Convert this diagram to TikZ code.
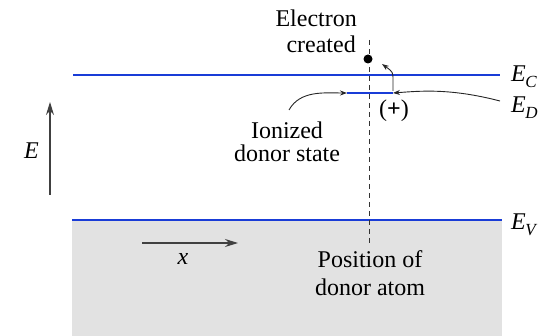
\documentclass[tikz,border=0pt]{standalone}
\usepackage{fontspec}
\setmainfont{Liberation Serif}
\usetikzlibrary{arrows.meta}
\definecolor{bandblue}{RGB}{25,60,215}
\definecolor{valgray}{RGB}{226,226,226}
\newcommand\Eband[1]{\textit{E}\kern-0.5pt\raisebox{-6pt}{\fontsize{17}{17}\selectfont\textit{#1}}}
\tikzset{
  band/.style={draw=bandblue,line width=2.5pt},
  lbl/.style={font=\fontsize{24}{24}\selectfont,inner sep=0pt},
  thinarrow/.style={draw=black!85,line width=0.9pt,-{Stealth[length=7pt,width=5pt]}},
  axisarrow/.style={draw=black!75,line width=1.2pt,-{Stealth[length=13pt,width=8pt]}}
}
\begin{document}
\begin{tikzpicture}[x=1pt,y=-1pt]
\useasboundingbox (0,0) rectangle (549,336);
\fill[valgray] (72,220) rectangle (502,336);
\coordinate (ecl) at (73,75);
\coordinate (ecr) at (500,75);
\coordinate (evl) at (72,220);
\coordinate (evr) at (502,220);
\draw[band] (ecl) -- (ecr);
\draw[band] (evl) -- (evr);
\coordinate (edl) at (347,93);
\coordinate (edr) at (393,93);
\draw[band,line width=2.3pt] (edl) -- (edr);
\coordinate (dtop) at (369,40);
\coordinate (dbot) at (369,245);
\draw[black!80,line width=1pt,dash pattern=on 5pt off 4pt] (dtop) -- (dbot);
\node[circle,fill=black,inner sep=0pt,minimum size=9pt] (el) at (368,59) {};
\node[lbl,anchor=base east] (el1) at (357,27) {Electron};
\node[lbl,anchor=base east] (el2) at (356,53) {created};
\node[lbl] (plus) at (394,111) {(\textbf{+})};
\node[lbl,anchor=base west] (EC) at (511,82) {\Eband{C}};
\node[lbl,anchor=base west] (ED) at (511,113) {\Eband{D}};
\node[lbl,anchor=base west] (EV) at (511,230) {\Eband{V}};
\node[lbl,anchor=base] (ion1) at (287,139) {Ionized};
\node[lbl,anchor=base] (ion2) at (287,162) {donor state};
\node[lbl,anchor=base] (pos1) at (370,268) {Position of};
\node[lbl,anchor=base] (pos2) at (370,296) {donor atom};
\node[lbl,anchor=base west] (Elab) at (24,159) {\textit{E}};
\node[lbl,anchor=base] (xlab) at (183,265) {\textit{x}};
\coordinate (Ebot) at (50,195);
\coordinate (Etop) at (50,102);
\draw[axisarrow] (Ebot) -- (Etop);
\coordinate (xl) at (142,243);
\coordinate (xr) at (238,243);
\draw[axisarrow] (xl) -- (xr);
\coordinate (ups) at (393,91);
\coordinate (upe) at (382,64);
\draw[thinarrow] (ups) -- (393,80) .. controls (393,72) .. (upe);
\coordinate (eds) at (500,101);
\draw[thinarrow] (eds) .. controls (450,88) and (420,91) .. (edr);
\coordinate (ions) at (289,110);
\draw[thinarrow] (ions) .. controls (300,90) and (325,93) .. (edl);
\end{tikzpicture}
\end{document}
